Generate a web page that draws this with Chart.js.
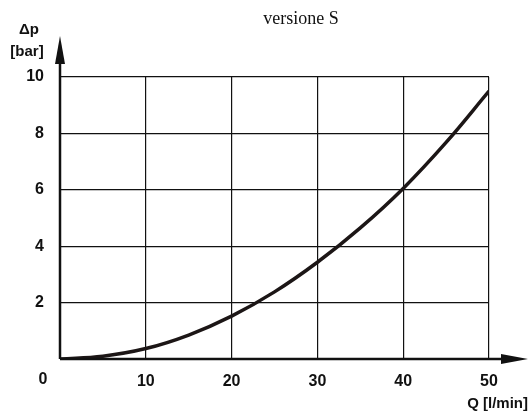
<!DOCTYPE html>
<html>
<head>
<meta charset="utf-8">
<script src="https://cdn.jsdelivr.net/npm/chart.js@4.4.0/dist/chart.umd.min.js"></script>
<style>
  body { margin: 0; background: #fff; }
  #box { width: 529px; height: 414px; }
</style>
</head>
<body>
<div id="box"><canvas id="grafico" width="529" height="414"></canvas></div>
<script>
// dati
const portata = [0, 5, 10, 15, 20, 25, 30, 35, 40, 45, 50];        // Q [l/min]
const deltaP  = [0, 0.1, 0.37, 0.85, 1.52, 2.38, 3.43, 4.65, 6.05, 7.68, 9.5]; // Δp [bar]
const xTicks = [0, 10, 20, 30, 40, 50];
const yTicks = [0, 2, 4, 6, 8, 10];

const fontBold = { family: 'Arial, "Liberation Sans", sans-serif', size: 16, weight: 'bold' };

// assi con frecce, titolo e etichette
const assiPlugin = {
    id: 'assi',
    afterDraw(chart) {
        const c = chart.ctx;
        const xs = chart.scales.x;
        const ys = chart.scales.y;
        const x0 = xs.getPixelForValue(0);
        const y0 = ys.getPixelForValue(0);
        c.save();
        c.strokeStyle = '#111';
        c.fillStyle = '#111';
        c.lineWidth = 2.5;
        // asse y
        c.beginPath();
        c.moveTo(x0, y0);
        c.lineTo(x0, 50);
        c.stroke();
        c.beginPath();
        c.moveTo(x0, 36);
        c.lineTo(x0 - 5, 64);
        c.lineTo(x0 + 5, 64);
        c.closePath();
        c.fill();
        // asse x
        c.beginPath();
        c.moveTo(x0, y0);
        c.lineTo(515, y0);
        c.stroke();
        c.beginPath();
        c.moveTo(528, y0);
        c.lineTo(501, y0 - 5);
        c.lineTo(501, y0 + 5);
        c.closePath();
        c.fill();

        // testi
        c.font = 'bold 16px Arial, "Liberation Sans", sans-serif';
        c.textBaseline = 'middle';
        c.textAlign = 'center';
        c.fillText('0', x0 - 17, 380);
        c.font = 'bold 15px Arial, "Liberation Sans", sans-serif';
        c.textAlign = 'right';
        c.fillText('Q [l/min]', 528, 404);
        c.textAlign = 'center';
        c.fillText('\u0394p', 29, 30);
        c.fillText('[bar]', 27, 52);

        c.font = '18px "Times New Roman", "Liberation Serif", serif';
        c.fillText('versione S', 301, 19);
        c.restore();
    }
};

new Chart(document.getElementById('grafico'), {
    type: 'line',
    data: {
        datasets: [{
            data: portata.map((q, i) => ({ x: q, y: deltaP[i] })),
            borderColor: '#1c1616',
            borderWidth: 3.5,
            pointRadius: 0,
            tension: 0.4,
            fill: false
        }]
    },
    options: {
        responsive: false,
        animation: false,
        layout: { padding: { left: 0, right: 40, top: 77, bottom: 0 } },
        plugins: { legend: { display: false }, tooltip: { enabled: false } },
        scales: {
            x: {
                type: 'linear',
                min: 0, max: 50,
                afterBuildTicks(s) { s.ticks = xTicks.map(v => ({ value: v })); },
                afterFit(s) { s.height = 55; },
                grid: { color: '#111', lineWidth: 1.2, drawTicks: false },
                border: { display: true, color: '#111', width: 1 },
                ticks: {
                    color: '#111', font: fontBold, padding: 13, maxRotation: 0,
                    callback: v => v === 0 ? '' : v
                }
            },
            y: {
                min: 0, max: 10,
                afterBuildTicks(s) { s.ticks = yTicks.map(v => ({ value: v })); },
                afterFit(s) { s.width = 60; },
                grid: { color: '#111', lineWidth: 1.2, drawTicks: false },
                border: { display: true, color: '#111', width: 1 },
                ticks: {
                    color: '#111', font: fontBold, padding: 16,
                    callback: v => v === 0 ? '' : v
                }
            }
        }
    },
    plugins: [assiPlugin]
});
</script>
</body>
</html>
